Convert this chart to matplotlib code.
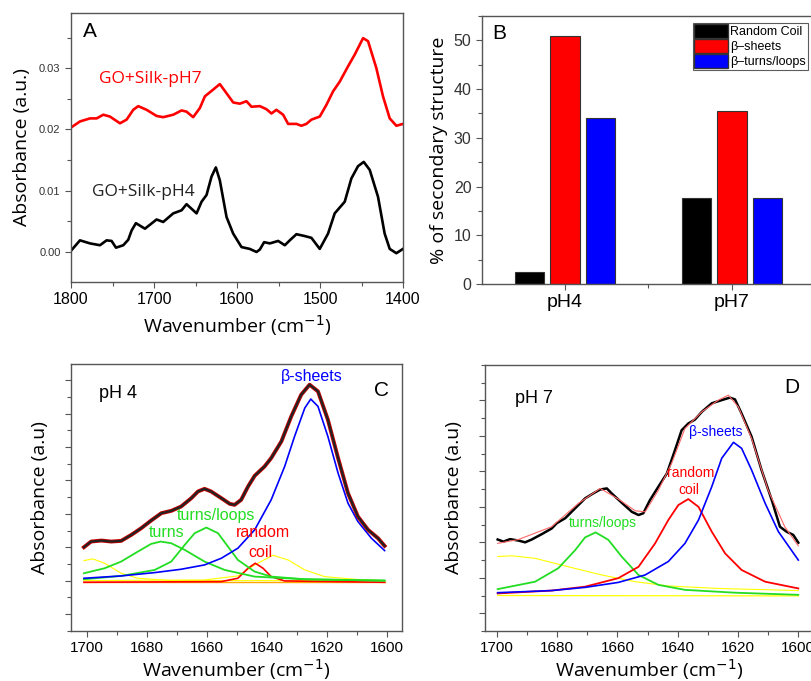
import matplotlib
matplotlib.use("Agg")
import matplotlib.pyplot as plt
from matplotlib.ticker import MultipleLocator, NullFormatter
from matplotlib.patches import Patch

# ---------------- Panel A data ----------------
wnA_pH7 = [1800, 1789.2, 1777.1, 1769.1, 1761.1, 1753.1, 1741, 1733, 1725, 1719, 1708.9, 1696.9,
           1688.9, 1676.8, 1666.8, 1660.8, 1652.8, 1644.7, 1638.7, 1628.7, 1620.7, 1612.6, 1604.6,
           1596.6, 1588.6, 1582.5, 1572.5, 1564.5, 1558.5, 1552.5, 1544.4, 1538.4, 1528.4, 1522.4,
           1516.4, 1510.3, 1500.3, 1492.3, 1484.3, 1476.2, 1466.2, 1458.2, 1448.1, 1442.1, 1432.1,
           1424.1, 1416, 1408, 1400]
absA_pH7 = [0.0203, 0.0213, 0.0218, 0.0218, 0.0224, 0.0221, 0.0210, 0.0216, 0.0232, 0.0238, 0.0232,
            0.0222, 0.0220, 0.0224, 0.0231, 0.0229, 0.0220, 0.0235, 0.0254, 0.0265, 0.0274, 0.0259,
            0.0244, 0.0242, 0.0246, 0.0237, 0.0238, 0.0233, 0.0226, 0.0232, 0.0224, 0.0209, 0.0209,
            0.0206, 0.0209, 0.0216, 0.0221, 0.0240, 0.0262, 0.0278, 0.0303, 0.0322, 0.0349, 0.0344,
            0.0300, 0.0254, 0.0218, 0.0206, 0.0209]
wnA_pH4 = [1800, 1789.2, 1777.1, 1765.1, 1757.1, 1751.1, 1745.8, 1737, 1731, 1727, 1721.8, 1710.9,
           1696.9, 1688.9, 1676.8, 1666.8, 1660.8, 1648.7, 1642.7, 1636.7, 1630.7, 1625.5, 1620.7,
           1612.6, 1604.6, 1594.6, 1584.6, 1576.5, 1572.5, 1567.3, 1560.5, 1550.4, 1542.4, 1536.4,
           1528.4, 1518.4, 1510.3, 1500.3, 1490.3, 1482.3, 1470.2, 1462.2, 1454.2, 1447.3, 1440.1,
           1430.1, 1422.1, 1416, 1408, 1400]
absA_pH4 = [0.0002, 0.0019, 0.0014, 0.0011, 0.0019, 0.0018, 0.0007, 0.0011, 0.0020, 0.0035, 0.0047,
            0.0038, 0.0053, 0.0049, 0.0063, 0.0068, 0.0078, 0.0063, 0.0082, 0.0093, 0.0123, 0.0138,
            0.0117, 0.0057, 0.0030, 0.0008, 0.0005, 0.0000, 0.0004, 0.0016, 0.0014, 0.0018, 0.0011,
            0.0019, 0.0029, 0.0026, 0.0023, 0.0005, 0.0030, 0.0063, 0.0082, 0.0120, 0.0140, 0.0147,
            0.0134, 0.0090, 0.0030, 0.0005, -0.0002, 0.0005]

# ---------------- Panel B data ----------------
groups = ["pH4", "pH7"]
structures = ["Random Coil", "\u03b2\u2013sheets", "\u03b2\u2013turns/loops"]
pct_random = [2.5, 17.6]
pct_sheets = [50.8, 35.6]
pct_turns = [34.0, 17.6]

# ---------------- Panel C data (pH 4) ----------------
wnC_meas = [1701, 1698.6, 1695.2, 1691.9, 1688.6, 1685.2, 1681.9, 1678.6, 1675.2, 1671.9, 1668.6,
            1665.2, 1663, 1660.8, 1658.6, 1655.2, 1652.4, 1650.8, 1648.6, 1646.3, 1644.1, 1640.8,
            1638.6, 1635.2, 1631.9, 1628.6, 1625.8, 1623, 1619.7, 1616.3, 1613, 1609.7, 1606.3,
            1603, 1600.8]
absC_meas = [1.00, 1.17, 1.20, 1.17, 1.19, 1.37, 1.57, 1.80, 2.02, 2.09, 2.22,
             2.47, 2.67, 2.75, 2.67, 2.47, 2.30, 2.27, 2.42, 2.82, 3.14, 3.42,
             3.67, 4.17, 4.92, 5.57, 5.87, 5.67, 4.82, 3.67, 2.62, 1.92, 1.52,
             1.27, 1.04]
wnC_sheet = [1701, 1688.6, 1677.4, 1668.6, 1660.8, 1655.2, 1649.7, 1644.1, 1638.6, 1634.1, 1630.8,
             1627.4, 1625.4, 1623, 1619.7, 1616.3, 1613, 1609.7, 1605.2, 1600.8]
absC_sheet = [0.07, 0.14, 0.24, 0.34, 0.47, 0.67, 0.97, 1.52, 2.42, 3.42, 4.32,
              5.17, 5.44, 5.22, 4.32, 3.22, 2.32, 1.77, 1.27, 0.90]
wnC_turn = [1701, 1694.1, 1688.6, 1683, 1678.6, 1675.4, 1671.9, 1667.4, 1660.8, 1654.1, 1644.1,
            1627.4, 1600.8]
absC_turn = [0.22, 0.37, 0.57, 0.87, 1.10, 1.17, 1.12, 0.92, 0.57, 0.32, 0.12, 0.04, 0.0]
wnC_loop = [1701, 1688.6, 1677.4, 1671.9, 1667.4, 1664.1, 1660.2, 1656.3, 1653, 1649.7, 1644.1,
            1638.6, 1627.4, 1600.8]
absC_loop = [0.04, 0.14, 0.32, 0.57, 1.07, 1.42, 1.59, 1.42, 1.02, 0.62, 0.27, 0.12, 0.04, 0.0]
wnC_coil = [1701, 1655.2, 1649.7, 1646.3, 1643.9, 1641.3, 1638.6, 1634.1, 1600.8]
absC_coil = [-0.05, -0.03, 0.07, 0.37, 0.52, 0.37, 0.12, -0.01, -0.05]
wnC_y1 = [1701, 1698, 1694.1, 1688.6, 1683, 1671.9, 1600.8]
absC_y1 = [0.60, 0.65, 0.52, 0.22, 0.07, 0.0, 0.0]
wnC_y2 = [1701, 1660.8, 1649.7, 1644.1, 1638, 1633, 1627.4, 1620.8, 1610.8, 1600.8]
absC_y2 = [0.0, 0.02, 0.14, 0.47, 0.76, 0.62, 0.32, 0.12, 0.04, 0.0]
wnC_base = [1701, 1600.8]
absC_base = [-0.05, -0.05]

# ---------------- Panel D data (pH 7) ----------------
wnD_meas = [1699.7, 1697.8, 1695.6, 1692.8, 1690.6, 1688.4, 1685.1, 1681.8, 1680.1, 1677.3, 1674,
            1670.7, 1668, 1665.7, 1663.5, 1661.9, 1658.6, 1655.2, 1653, 1651.4, 1649.2, 1646.4,
            1643.6, 1640.9, 1638.7, 1636.5, 1634.3, 1632, 1628.7, 1625.4, 1622.7, 1621, 1618.8,
            1615.5, 1612.2, 1608.8, 1606.1, 1603.9, 1601.7, 1600]
absD_meas = [2.08, 2.02, 2.09, 2.05, 2.00, 2.08, 2.23, 2.39, 2.54, 2.68, 2.96,
             3.24, 3.38, 3.49, 3.52, 3.38, 3.12, 2.86, 2.77, 2.82, 3.19, 3.57,
             3.94, 4.60, 5.16, 5.35, 5.46, 5.68, 5.92, 6.01, 6.08, 6.03, 5.63,
             4.98, 4.04, 3.19, 2.44, 2.30, 2.21, 1.99]
wnD_fit = [1699.7, 1692.8, 1681.8, 1672.9, 1665.7, 1659.7, 1654.1, 1650.8, 1646.4, 1642, 1637.6,
           1632, 1626.5, 1623.2, 1619.9, 1615.5, 1610, 1604.5, 1600]
absD_fit = [1.97, 2.08, 2.44, 3.10, 3.52, 3.22, 2.89, 2.86, 3.47, 4.23, 5.21,
            5.68, 6.01, 6.15, 5.82, 4.93, 3.47, 2.44, 1.90]
wnD_sheet = [1699.7, 1681.8, 1670.7, 1659.7, 1650.8, 1643.1, 1637.6, 1633.1, 1628.7, 1625.4, 1621.5,
             1618.8, 1615.5, 1611, 1606.6, 1600]
absD_sheet = [0.58, 0.64, 0.73, 0.87, 1.08, 1.46, 1.97, 2.63, 3.57, 4.37, 4.82,
              4.65, 4.04, 3.10, 2.30, 1.50]
wnD_coil = [1699.7, 1681.8, 1670.7, 1659.7, 1653, 1647.5, 1643.1, 1639.8, 1636.5, 1633.1, 1628.7,
            1624.3, 1618.8, 1611, 1600]
absD_coil = [0.56, 0.64, 0.75, 0.99, 1.31, 1.97, 2.63, 3.05, 3.22, 3.00, 2.30,
             1.69, 1.22, 0.89, 0.70]
wnD_loop = [1699.7, 1687.3, 1679.6, 1674, 1670.7, 1667.2, 1663, 1658.6, 1653, 1646.4, 1637.6,
            1621, 1600]
absD_loop = [0.68, 0.89, 1.27, 1.78, 2.14, 2.28, 2.07, 1.60, 1.08, 0.80, 0.66, 0.58, 0.52]
wnD_y1 = [1699.7, 1695, 1687.3, 1676.2, 1665.2, 1654.1, 1643.1, 1626.5, 1600]
absD_y1 = [1.60, 1.62, 1.55, 1.31, 1.08, 0.89, 0.77, 0.70, 0.64]
wnD_base = [1699.7, 1600]
absD_base = [0.50, 0.49]

# ---------------- figure ----------------
W, H = 812, 681
fig = plt.figure(figsize=(W / 100, H / 100), dpi=100)

TICKF = ["Liberation Sans", "DejaVu Sans"]
LABF = ["Open Sans", "DejaVu Sans"]
SPC = "#555555"
GREEN = "#22dd22"


def ax_at(l, t, r, b):
    return fig.add_axes([l / W, 1 - b / H, (r - l) / W, (b - t) / H])


def style(ax):
    for s in ax.spines.values():
        s.set_color(SPC)
        s.set_linewidth(1.0)
    ax.tick_params(which="both", direction="out", color=SPC, top=False, right=False)
    ax.tick_params(which="major", length=4, width=0.8)
    ax.tick_params(which="minor", length=3, width=0.8)


# Panel A
axA = ax_at(71, 13, 403, 282)
style(axA)
axA.plot(wnA_pH7, absA_pH7, color="red", lw=1.9, solid_joinstyle="round")
axA.plot(wnA_pH4, absA_pH4, color="black", lw=1.9, solid_joinstyle="round")
axA.set_xlim(1800, 1400)
axA.set_ylim(-0.0049, 0.039)
axA.set_xticks([1800, 1700, 1600, 1500, 1400])
axA.xaxis.set_minor_locator(MultipleLocator(50))
axA.set_yticks([0.0, 0.01, 0.02, 0.03])
axA.set_yticklabels(["0.00", "0.01", "0.02", "0.03"])
axA.yaxis.set_minor_locator(MultipleLocator(0.005))
for lab in axA.get_xticklabels():
    lab.set_fontfamily(TICKF); lab.set_fontsize(11.5)
for lab in axA.get_yticklabels():
    lab.set_fontfamily(TICKF); lab.set_fontsize(8); lab.set_color("#333333")
axA.set_xlabel("Wavenumber (cm$^{-1}$)", fontfamily=LABF, fontsize=14, labelpad=4)
axA.set_ylabel("Absorbance (a.u.)", fontfamily=LABF, fontsize=14, labelpad=6)
axA.text(0.035, 0.93, "A", transform=axA.transAxes, fontsize=15, fontfamily=TICKF, va="center")
axA.text(1766, 0.0282, "GO+Silk-pH7", color="red", fontsize=12.5, fontfamily=LABF, va="center")
axA.text(1775, 0.0098, "GO+Silk-pH4", color="#222222", fontsize=12.5, fontfamily=LABF, va="center")

# Panel B
axB = ax_at(482, 16, 816, 284)
style(axB)
x0 = [0, 1]
bw = 0.174
off = 0.21
axB.bar([x - off for x in x0], pct_random, width=bw, color="black", edgecolor="#333333", lw=0.8)
axB.bar(x0, pct_sheets, width=bw, color="red", edgecolor="#333333", lw=0.8)
axB.bar([x + off for x in x0], pct_turns, width=bw, color="blue", edgecolor="#333333", lw=0.8)
axB.set_xlim(-0.497, 1.503)
axB.set_ylim(0, 55)
axB.set_xticks(x0)
axB.set_xticklabels(groups, fontfamily=TICKF, fontsize=14)
axB.set_xticks([0.5], minor=True)
axB.set_yticks([0, 10, 20, 30, 40, 50])
axB.yaxis.set_minor_locator(MultipleLocator(5))
for lab in axB.get_yticklabels():
    lab.set_fontfamily(TICKF); lab.set_fontsize(11.5); lab.set_color("#333333")
axB.set_ylabel("% of secondary structure", fontfamily=LABF, fontsize=14, labelpad=4)
axB.text(0.03, 0.935, "B", transform=axB.transAxes, fontsize=15, fontfamily=TICKF, va="center")
handles = [Patch(facecolor=c, edgecolor="#333333") for c in ["black", "red", "blue"]]
leg = axB.legend(handles, structures, loc="upper left",
                 bbox_to_anchor=((693 - 482) / 334, 1 - (23 - 16) / 268),
                 frameon=True, fancybox=False, edgecolor="#333333", borderpad=0.1,
                 handlelength=2.7, handleheight=1.3, handletextpad=0.2, labelspacing=0.08,
                 borderaxespad=0, prop={"family": TICKF, "size": 9})
leg.get_frame().set_linewidth(0.8)

# Panel C
axC = ax_at(71, 364, 402, 631)
style(axC)
axC.plot(wnC_base, absC_base, color="orange", lw=1.0)
axC.plot(wnC_y1, absC_y1, color="yellow", lw=0.8)
axC.plot(wnC_y2, absC_y2, color="yellow", lw=0.8)
axC.plot(wnC_coil, absC_coil, color="red", lw=1.2)
axC.plot(wnC_turn, absC_turn, color=GREEN, lw=1.3)
axC.plot(wnC_loop, absC_loop, color=GREEN, lw=1.3)
axC.plot(wnC_sheet, absC_sheet, color="blue", lw=1.2)
axC.plot(wnC_meas, absC_meas, color="#cc0000", lw=2.8, solid_joinstyle="round")
axC.plot(wnC_meas, absC_meas, color="#222222", lw=1.6, solid_joinstyle="round")
axC.set_xlim(1705.3, 1595)
axC.set_ylim(-1.51, 6.49)
axC.set_xticks([1700, 1680, 1660, 1640, 1620, 1600])
axC.xaxis.set_minor_locator(MultipleLocator(10))
axC.set_yticks(range(-1, 7))
axC.yaxis.set_minor_locator(MultipleLocator(0.5))
axC.yaxis.set_major_formatter(NullFormatter())
for lab in axC.get_xticklabels():
    lab.set_fontfamily(TICKF); lab.set_fontsize(11)
axC.set_xlabel("Wavenumber (cm$^{-1}$)", fontfamily=LABF, fontsize=14, labelpad=1)
axC.set_ylabel("Absorbance (a.u)", fontfamily=LABF, fontsize=14, labelpad=8)
axC.text(0.085, 0.89, "pH 4", transform=axC.transAxes, fontsize=13, fontfamily=TICKF, va="center")
axC.text(0.915, 0.90, "C", transform=axC.transAxes, fontsize=15, fontfamily=TICKF, va="center")
axC.text(1625, 6.11, "\u03b2-sheets", color="blue", fontsize=11.5, fontfamily=TICKF, ha="center", va="center")
axC.text(1656.9, 1.94, "turns/loops", color=GREEN, fontsize=11.5, fontfamily=TICKF, ha="center", va="center")
axC.text(1673.6, 1.43, "turns", color=GREEN, fontsize=11.5, fontfamily=TICKF, ha="center", va="center")
axC.text(1641.5, 1.43, "random", color="red", fontsize=11.5, fontfamily=TICKF, ha="center", va="center")
axC.text(1642.2, 0.83, "coil", color="red", fontsize=11.5, fontfamily=TICKF, ha="center", va="center")

# Panel D
axD = ax_at(485, 365, 813.4, 631)
style(axD)
axD.plot(wnD_base, absD_base, color="yellow", lw=0.9)
axD.plot(wnD_y1, absD_y1, color="yellow", lw=0.8)
axD.plot(wnD_loop, absD_loop, color=GREEN, lw=1.3)
axD.plot(wnD_coil, absD_coil, color="red", lw=1.3)
axD.plot(wnD_sheet, absD_sheet, color="blue", lw=1.2)
axD.plot(wnD_meas, absD_meas, color="black", lw=1.8, solid_joinstyle="round")
axD.plot(wnD_fit, absD_fit, color="#ff6666", lw=0.8)
axD.set_xlim(1703.9, 1595)
axD.set_ylim(-0.5, 7.0)
axD.set_xticks([1700, 1680, 1660, 1640, 1620, 1600])
axD.xaxis.set_minor_locator(MultipleLocator(10))
axD.set_yticks(range(0, 7))
axD.yaxis.set_minor_locator(MultipleLocator(0.5))
axD.yaxis.set_major_formatter(NullFormatter())
for lab in axD.get_xticklabels():
    lab.set_fontfamily(TICKF); lab.set_fontsize(11)
axD.set_xlabel("Wavenumber (cm$^{-1}$)", fontfamily=LABF, fontsize=14, labelpad=1)
axD.set_ylabel("Absorbance (a.u)", fontfamily=LABF, fontsize=14, labelpad=8)
axD.text(0.09, 0.875, "pH 7", transform=axD.transAxes, fontsize=13, fontfamily=TICKF, va="center")
axD.text(0.91, 0.915, "D", transform=axD.transAxes, fontsize=15, fontfamily=TICKF, va="center")
axD.text(1627.3, 5.11, "\u03b2-sheets", color="blue", fontsize=10, fontfamily=TICKF, ha="center", va="center")
axD.text(1635.6, 3.95, "random", color="red", fontsize=10, fontfamily=TICKF, ha="center", va="center")
axD.text(1636.3, 3.47, "coil", color="red", fontsize=10, fontfamily=TICKF, ha="center", va="center")
axD.text(1664.8, 2.54, "turns/loops", color=GREEN, fontsize=10, fontfamily=TICKF, ha="center", va="center")

fig.savefig("out.png", dpi=100)
